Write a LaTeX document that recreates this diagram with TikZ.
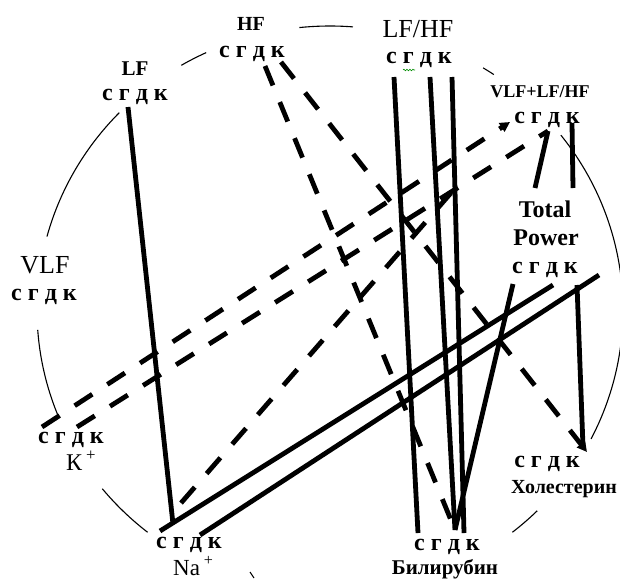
\documentclass[tikz,border=0pt]{standalone}
\usepackage{fontspec}
\setmainfont{Liberation Serif}
\usetikzlibrary{arrows.meta,decorations.pathmorphing}
\begin{document}
\begin{tikzpicture}[x=1pt,y=-1pt,
  grp/.style={font=\bfseries\fontsize{24}{26}\selectfont,inner sep=0pt,anchor=base},
  lblb/.style={font=\bfseries\fontsize{20}{22}\selectfont,inner sep=0pt,anchor=base},
  lblr/.style={font=\fontsize{26}{28}\selectfont,inner sep=0pt,anchor=base},
  rim/.style={line width=1.1pt},
  solidln/.style={line width=4.8pt},
  dashln/.style={line width=4.8pt,dash pattern=on 21pt off 18pt},
  tip/.style={-{Triangle[length=10pt,width=10pt]}}
]
\useasboundingbox (0,0) rectangle (620,579);
\clip (0,0) rectangle (620,579);

% circle fragments
\foreach \a/\b in {-96/-85.5,-120.5/-115,-58.5/-56,-38/27,195/224,158/176,128.5/141,45/51.5}
  \draw[rim] plot[domain=\a:\b,samples=40,smooth] ({330+293*cos(\x)},{310+284*sin(\x)});
\coordinate (tk1) at (250,572);
\coordinate (tk2) at (254,578);
\draw[rim] (tk1) -- (tk2);

% letter groups
\node[grp] (gHF)   at (252,57)  {с г д к};
\node[grp] (gLF)   at (135,100) {с г д к};
\node[grp] (gLFHF) at (419,63)  {с г д к};
\node[grp] (gSum)  at (547,123) {с г д к};
\node[grp] (gTP)   at (545,273) {с г д к};
\node[grp] (gVLF)  at (44,300)  {с г д к};
\node[grp] (gK)    at (71,443)  {с г д к};
\node[grp] (gNa)   at (189,548) {с г д к};
\node[grp] (gBil)  at (447,550) {с г д к};
\node[grp] (gChol) at (547,467) {с г д к};

% labels
\node[lblb] (tHF) at (251,30) {HF};
\node[lblb,font=\bfseries\fontsize{21}{23}\selectfont] (tLF) at (135,75) {LF};
\node[lblr] (tLFHF) at (418,37) {LF/HF};
\node[lblb,font=\bfseries\fontsize{18}{20}\selectfont] (tSum) at (540,97) {VLF+LF/HF};
\node[lblb,font=\bfseries\fontsize{24}{26}\selectfont] (tTot) at (545,217) {Total};
\node[lblb,font=\bfseries\fontsize{24}{26}\selectfont] (tPow) at (546,245) {Power};
\node[lblr] (tVLF) at (45,273) {VLF};
\node[lblr,font=\fontsize{24}{26}\selectfont,anchor=base west] (tK) at (66,470) {К\,\textsuperscript{+}};
\node[lblr,font=\fontsize{23}{25}\selectfont,anchor=base west] (tNa) at (173,575) {Na\,\textsuperscript{+}};
\node[lblb,font=\bfseries\fontsize{21}{23}\selectfont] (tBil) at (445,574) {Билирубин};
\node[lblb] (tChol) at (564,493) {Холестерин};

% spell-check squiggle
\coordinate (sq1) at (403,70);
\coordinate (sq2) at (415,70);
\draw[green!55!black,line width=0.6pt,decorate,decoration={snake,amplitude=0.8pt,segment length=3pt}] (sq1) -- (sq2);

% connector end points
\coordinate (LFg)   at (128,107);
\coordinate (NaIn)  at (173,524);
\coordinate (LHc)   at (394,77);
\coordinate (LHd)   at (430,77);
\coordinate (LHk)   at (452,77);
\coordinate (Bc)    at (418,533);
\coordinate (Bd)    at (455,530);
\coordinate (Bk)    at (464,533);
\coordinate (Sc)    at (510,122);
\coordinate (Sd)    at (548,131);
\coordinate (Sk)    at (572,123);
\coordinate (TPtop) at (535,188);
\coordinate (TPk1)  at (573,188);
\coordinate (TPc)   at (513,284);
\coordinate (TPd)   at (553,285);
\coordinate (TPk)   at (577,285);
\coordinate (Bend)  at (599,275);
\coordinate (Chk)   at (583,447);
\coordinate (Chk2)  at (587,452);
\coordinate (Kc)    at (42,427);
\coordinate (Kd)    at (77,427);
\coordinate (HFg)   at (265,66);
\coordinate (HFk)   at (281,62);
\coordinate (Nag)   at (160,531);
\coordinate (Nad)   at (200,535);
\coordinate (Nag2)  at (181,503);
\coordinate (Mid)   at (457,186);

% solid connectors
\draw[solidln] (LFg) -- (NaIn);
\draw[solidln] (LHc) -- (Bc);
\draw[solidln] (LHd) -- (Bd);
\draw[solidln] (LHk) -- (Bk);
\draw[solidln] (Sk) -- (TPk1);
\draw[solidln] (TPtop) -- (Sd);
\draw[solidln] (TPc) -- (Bd);
\draw[solidln] (TPk) -- (Chk);
\draw[solidln] (Nag) -- (TPd);
\draw[solidln] (Nad) -- (Bend);

% dashed connectors
\draw[dashln,tip] (Kc) -- (Sc);
\draw[dashln] (Kd) -- (Sd);
\draw[dashln] (HFg) -- (Bd);
\draw[dashln,tip] (HFk) -- (Chk2);
\draw[dashln] (Nag2) -- (Mid);
\end{tikzpicture}
\end{document}
